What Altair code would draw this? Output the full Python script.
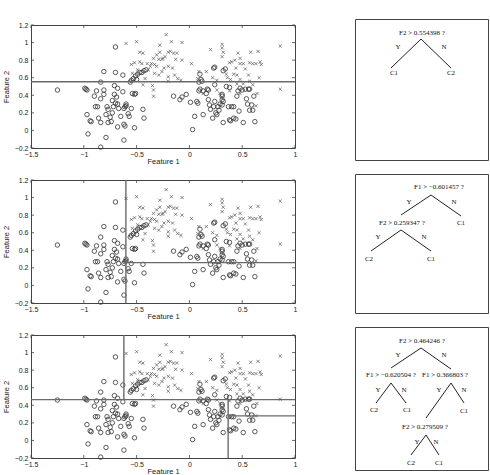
import altair as alt
import pandas as pd

# ---- samples of class C1 (circles) ----
c1_x = [-1.25, -0.70, -0.99, -0.98, -0.97, -0.88, -0.84, -0.81, -0.70, -0.71, -0.68, -0.81, -0.81,
        -0.90, -0.84, -0.71, -0.69, -0.73, -0.70, -0.89, -0.87, -0.78, -0.77, -0.72, -0.68, -0.67,
        -0.73, -0.79, -0.97, -0.86, -0.94, -0.93, -0.84, -0.77, -0.74, -0.75, -0.68, -0.96, -0.79,
        -0.84, -0.62, -0.62, -0.61, -0.65, -0.60, -0.60, -0.61, -0.62, -0.58, -0.57, -0.55, -0.63,
        -0.54, -0.52, -0.51, -0.52, -0.44, -0.43, -0.63, -0.56, -0.55, -0.53, -0.51, -0.50, -0.49,
        -0.47, -0.45, -0.43, -0.41,
        -0.15, -0.09, -0.07, -0.03, 0.01, 0.03, 0.05, 0.07, 0.08, 0.09, 0.10, 0.11, 0.09, 0.10,
        0.13, 0.13, 0.16, 0.18, 0.18, 0.19, 0.20, 0.22, 0.23, 0.24, 0.24, 0.23, 0.24, 0.25, 0.26,
        0.27, 0.28, 0.29, 0.31, 0.31, 0.31, 0.32, 0.31, 0.32, 0.32, 0.35, 0.37, 0.38, 0.40, 0.42,
        0.39, 0.42, 0.44, 0.45, 0.46, 0.48, 0.50, 0.51, 0.53, 0.54, 0.55, 0.56, 0.57, 0.59, 0.57,
        0.60, 0.61, 0.62, 0.47, 0.34, 0.17, 0.12, 0.38]
c1_y = [0.46, 0.95, 0.48, 0.47, 0.46, 0.45, 0.55, 0.67, 0.66, 0.51, 0.48, 0.46, 0.41,
        0.39, 0.36, 0.41, 0.38, 0.34, 0.31, 0.27, 0.27, 0.27, 0.24, 0.27, 0.30, 0.25,
        0.20, 0.18, 0.18, 0.14, 0.11, 0.10, 0.09, 0.09, 0.10, 0.15, 0.04, -0.04, -0.08,
        -0.19, -0.11, 0.07, 0.05, 0.16, 0.30, 0.28, 0.27, 0.25, 0.19, 0.16, 0.25, 0.44,
        0.42, 0.41, 0.42, 0.03, 0.24, 0.14, 0.63, 0.55, 0.57, 0.59, 0.62, 0.58, 0.64,
        0.66, 0.66, 0.68, 0.69,
        0.39, 0.35, 0.38, 0.41, 0.32, 0.01, 0.16, 0.33, 0.31, 0.45, 0.47, 0.58, 0.55, 0.64,
        0.45, 0.18, 0.42, 0.46, 0.35, 0.29, 0.24, 0.14, 0.27, 0.33, 0.52, 0.71, 0.72, 0.20, 0.18,
        0.27, 0.23, 0.30, 0.39, 0.41, 0.35, 0.33, 0.29, 0.09, 0.68, 0.50, 0.27, 0.49, 0.27, 0.27,
        0.11, 0.14, 0.13, 0.39, 0.45, 0.48, 0.46, 0.09, 0.47, 0.36, 0.30, 0.47, 0.47, 0.29, 0.23,
        0.23, 0.39, 0.10, 0.22, 0.70, 0.47, 0.56, 0.12]

# ---- samples of class C2 (crosses) ----
c2_x = [-0.60, -0.50, -0.47, -0.44, -0.55, -0.52, -0.47, -0.54, -0.49, -0.45, -0.40, -0.37, -0.36,
        -0.34, -0.31, -0.29, -0.28, -0.26, -0.25, -0.23, -0.22, -0.20, -0.18, -0.17, -0.15, -0.13,
        -0.12, -0.07, -0.07, -0.28, -0.33, -0.39, -0.31, -0.26, -0.24, -0.20, -0.16, -0.29, -0.33,
        -0.42, -0.44, -0.35, -0.34, -0.34, -0.20, -0.14, -0.11, -0.08, -0.20,
        0.02, 0.09, 0.08, 0.20, 0.31, 0.31, 0.32, 0.31, 0.38, 0.40, 0.43, 0.46, 0.48, 0.44, 0.48,
        0.51, 0.53, 0.56, 0.58, 0.57, 0.60, 0.63, 0.65, 0.67, 0.68, 0.66, 0.86, 0.86, 0.63, 0.64,
        0.60, 0.57, 0.48, 0.45, 0.42, 0.39, 0.36, 0.35, 0.38, 0.45, 0.51, 0.48, 0.26, 0.29, 0.22,
        0.16, 0.26, 0.13]
c2_y = [0.99, 1.01, 0.89, 0.88, 0.75, 0.77, 0.78, 0.65, 0.69, 0.76, 0.76, 0.73, 0.76,
        0.82, 0.86, 0.81, 0.89, 0.81, 0.82, 0.84, 1.09, 0.89, 0.90, 1.01, 0.88, 0.81,
        0.88, 1.00, 0.80, 0.97, 0.75, 0.69, 0.73, 0.67, 0.71, 0.73, 0.71, 0.63, 0.65,
        0.59, 0.52, 0.51, 0.39, 0.46, 0.61, 0.63, 0.59, 0.57, 0.56,
        0.76, 0.67, 0.59, 0.92, 0.98, 0.94, 0.89, 0.84, 0.77, 0.78, 0.80, 0.88, 0.82, 0.71, 0.76,
        0.76, 0.70, 0.63, 0.89, 0.77, 0.76, 0.76, 0.90, 0.78, 0.75, 0.60, 0.96, 0.47, 0.28, 0.42,
        0.52, 0.56, 0.58, 0.63, 0.64, 0.58, 0.60, 0.64, 0.45, 0.53, 0.53, 0.42, 0.46, 0.42, 0.60,
        0.67, 0.57, 0.42]

x_ticks = [-1.5, -1, -0.5, 0, 0.5, 1]
y_ticks = [-0.2, 0, 0.2, 0.4, 0.6, 0.8, 1, 1.2]
X_DOM = [-1.5, 1]
Y_DOM = [-0.2, 1.2]

# decision thresholds learned by the three trees
tree1_f2 = 0.554398
tree2_f1, tree2_f2 = -0.601457, 0.259347
tree3_f2, tree3_f1a, tree3_f1b, tree3_f2b = 0.464246, -0.620504, 0.366803, 0.279509

PW, PH = 264, 123
SANS = "Liberation Sans"
SERIF = "Liberation Serif"

c1 = pd.DataFrame({"x": c1_x, "y": c1_y})
c2 = pd.DataFrame({"x": c2_x, "y": c2_y})

XS = alt.Scale(domain=X_DOM, nice=False, zero=False)
YS = alt.Scale(domain=Y_DOM, nice=False, zero=False)
AX = dict(grid=False, domain=False, ticks=False, labelFont=SANS, labelFontSize=7,
          labelColor="#222", titleFont=SANS, titleFontSize=7.5, titleFontWeight="normal",
          titleColor="#222", format="~g", labelOverlap=False)
X_AXIS = alt.Axis(values=x_ticks, title="Feature 1", labelFlush=False, labelPadding=2,
                  titlePadding=0, **AX)
Y_AXIS = alt.Axis(values=y_ticks, title="Feature 2", labelPadding=3, titlePadding=4, **AX)


def xq(field):
    return alt.X(field, scale=XS, axis=X_AXIS)


def yq(field):
    return alt.Y(field, scale=YS, axis=Y_AXIS)


def scatter_panel(segments):
    circles = alt.Chart(c1).mark_point(
        shape="circle", filled=False, size=20, stroke="#333", strokeWidth=0.8, opacity=1
    ).encode(x=xq("x:Q"), y=yq("y:Q"))
    crosses = alt.Chart(c2).mark_point(
        shape="M-1,-1L1,1M-1,1L1,-1", filled=False, size=10, stroke="#555", strokeWidth=0.7, opacity=1
    ).encode(x=xq("x:Q"), y=yq("y:Q"))

    seg = pd.DataFrame(segments, columns=["x", "y", "x2", "y2"])
    splits = alt.Chart(seg).mark_rule(color="#6a6a6a", strokeWidth=1.4).encode(
        x=xq("x:Q"), y=yq("y:Q"), x2="x2:Q", y2="y2:Q"
    )

    # inward tick marks on all four sides of the frame
    xt = pd.DataFrame({"x": x_ticks})
    yt = pd.DataFrame({"y": y_ticks})
    tk = dict(color="#444", strokeWidth=0.8)
    t_bottom = alt.Chart(xt).mark_rule(**tk).encode(x=xq("x:Q"), y=alt.value(PH), y2=alt.value(PH - 3))
    t_top = alt.Chart(xt).mark_rule(**tk).encode(x=xq("x:Q"), y=alt.value(0), y2=alt.value(3))
    t_left = alt.Chart(yt).mark_rule(**tk).encode(y=yq("y:Q"), x=alt.value(0), x2=alt.value(3))
    t_right = alt.Chart(yt).mark_rule(**tk).encode(y=yq("y:Q"), x=alt.value(PW), x2=alt.value(PW - 3))

    return alt.layer(circles, splits, crosses, t_bottom, t_top, t_left, t_right).properties(
        width=PW, height=PH
    )


p1 = scatter_panel([[-1.5, tree1_f2, 1, tree1_f2]])
p2 = scatter_panel([[tree2_f1, -0.2, tree2_f1, 1.2],
                    [tree2_f1, tree2_f2, 1, tree2_f2]])
p3 = scatter_panel([[-1.5, tree3_f2, 1, tree3_f2],
                    [tree3_f1a, tree3_f2, tree3_f1a, 1.2],
                    [tree3_f1b, -0.2, tree3_f1b, tree3_f2],
                    [tree3_f1b, tree3_f2b, 1, tree3_f2b]])

# ---- tree diagrams (node layout in box units, origin top-left) ----
BW = 133


def tree_box(h, edges, labels):
    xs = alt.Scale(domain=[0, BW], nice=False, zero=False)
    ys = alt.Scale(domain=[0, h], reverse=True, nice=False, zero=False)
    e = pd.DataFrame(edges, columns=["x", "y", "x2", "y2"])
    t = pd.DataFrame(labels, columns=["label", "x", "y"])
    lines = alt.Chart(e).mark_rule(color="#222", strokeWidth=1).encode(
        x=alt.X("x:Q", scale=xs, axis=None), y=alt.Y("y:Q", scale=ys, axis=None), x2="x2:Q", y2="y2:Q"
    )
    text = alt.Chart(t).mark_text(font=SERIF, fontSize=7, color="#111", baseline="middle").encode(
        x=alt.X("x:Q", scale=xs, axis=None), y=alt.Y("y:Q", scale=ys, axis=None), text="label:N"
    )
    return alt.layer(lines, text).properties(width=BW, height=h)


b1 = tree_box(141,
              [[66, 20, 36, 49], [66, 20, 96, 49]],
              [[f"F2 > {tree1_f2} ?", 67, 14], ["Y", 43, 28], ["N", 89, 28],
               ["C1", 39, 54], ["C2", 96, 54]])

b2 = tree_box(139,
              [[76, 21, 46, 41], [76, 21, 106, 42], [46, 56, 16, 77], [46, 56, 76, 77]],
              [["F1 > \u2212" + f"{abs(tree2_f1)} ?", 84, 13], ["Y", 54, 28], ["N", 99, 28],
               ["C1", 106, 49], [f"F2 > {tree2_f2} ?", 47, 49], ["Y", 23, 63], ["N", 69, 63],
               ["C2", 14, 85], ["C1", 76, 85]])

b3 = tree_box(143,
              [[66, 21, 36, 41], [66, 21, 96, 42], [36, 56, 21, 76], [36, 56, 51, 76],
               [96, 56, 71, 91], [96, 56, 109, 76], [71, 108, 56, 128], [71, 108, 84, 128]],
              [[f"F2 > {tree3_f2} ?", 67, 14], ["Y", 43, 28], ["N", 89, 28],
               ["F1 > \u2212" + f"{abs(tree3_f1a)} ?", 36, 48], [f"F1 > {tree3_f1b} ?", 90, 48],
               ["Y", 23, 63], ["N", 49, 63], ["C2", 19, 83], ["C1", 52, 83],
               ["Y", 84, 63], ["N", 109, 63], ["C1", 109, 84],
               [f"F2 > {tree3_f2b} ?", 70, 100], ["Y", 62, 115], ["N", 81, 115],
               ["C2", 56, 136], ["C1", 84, 136]])

spacer = alt.Chart(pd.DataFrame({"v": [0]})).mark_point(opacity=0).encode(
    x=alt.value(0), y=alt.value(0)
).properties(width=PW, height=6, view=alt.ViewBackground(stroke="transparent"))

left = alt.vconcat(spacer, alt.vconcat(p1, p2, p3, spacing=32, bounds="flush"),
                   spacing=0, bounds="flush")
right = alt.vconcat(b1, b2, b3, spacing=14, bounds="flush")

chart = alt.hconcat(left, right, spacing=56).configure_view(
    stroke="#444", strokeWidth=1
).properties(background="white", padding={"left": 1, "top": 15, "right": 0, "bottom": 0})

chart.save("out.html", embed_options={"renderer": "svg", "actions": False})
